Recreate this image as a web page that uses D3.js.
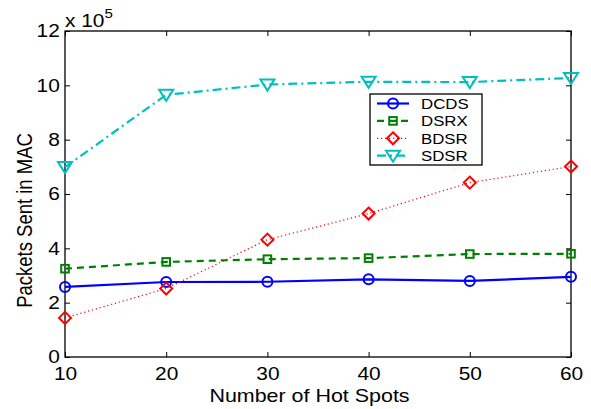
<!DOCTYPE html>
<html><head><meta charset="utf-8">
<script src="https://cdn.jsdelivr.net/npm/d3@7"></script>
<style>body{margin:0;background:#fff}svg{display:block}text{font-family:"Liberation Sans",Arial,sans-serif;fill:#000}</style>
</head><body><svg id="c" width="591" height="409"></svg>
<script>
const hotSpots = [10, 20, 30, 40, 50, 60];
const DCDS = [2.58, 2.76, 2.77, 2.86, 2.80, 2.95];
const DSRX = [3.25, 3.50, 3.60, 3.64, 3.79, 3.80];
const BDSR = [1.44, 2.52, 4.32, 5.28, 6.42, 7.01];
const SDSR = [6.99, 9.65, 10.03, 10.13, 10.12, 10.27];
const xTicks = [10, 20, 30, 40, 50, 60];
const yTicks = [0, 2, 4, 6, 8, 10, 12];

const series = [
  {name: "DCDS", values: DCDS, color: "#0000ff", dash: null, width: 2.2, marker: "circle"},
  {name: "DSRX", values: DSRX, color: "#008000", dash: "7,5", width: 2.2, marker: "square"},
  {name: "BDSR", values: BDSR, color: "#ff0000", dash: "1.2,2.8", width: 1.2, marker: "diamond"},
  {name: "SDSR", values: SDSR, color: "#00bfbf", dash: "9,4,2,4", width: 2.2, marker: "tri"}
];

const SX = 1.16; // horizontal stretch of glyphs in the reference
const svg = d3.select("#c");
const L = 65, R = 571, T = 31, B = 357;
const x = d3.scaleLinear().domain([10, 60]).range([L, R]);
const y = d3.scaleLinear().domain([0, 12]).range([B, T]);

function drawMarker(g, type, cx, cy, color) {
  let m;
  if (type === "circle") m = g.append("circle").attr("cx", cx).attr("cy", cy).attr("r", 5);
  else if (type === "square") m = g.append("rect").attr("x", cx - 3.8).attr("y", cy - 3.8).attr("width", 7.6).attr("height", 7.6);
  else if (type === "diamond") m = g.append("path").attr("d", `M${cx},${cy-6}L${cx+6},${cy}L${cx},${cy+6}L${cx-6},${cy}Z`);
  else m = g.append("path").attr("d", `M${cx-7},${cy-5}L${cx+7},${cy-5}L${cx},${cy+6}Z`);
  m.attr("fill", "none").attr("stroke", color).attr("stroke-width", 2);
}

// frame
svg.append("rect").attr("x", L).attr("y", T).attr("width", R - L).attr("height", B - T)
  .attr("fill", "none").attr("stroke", "#000").attr("stroke-width", 1.3);

// axes with inward ticks
const xAxis = svg.append("g").attr("transform", `translate(0,${B})`)
  .call(d3.axisBottom(x).tickValues(xTicks).tickSize(-5).tickPadding(10));
const xTop = svg.append("g").attr("transform", `translate(0,${T})`)
  .call(d3.axisTop(x).tickValues(xTicks).tickSize(-5).tickFormat(""));
const yAxis = svg.append("g").attr("transform", `translate(${L},0)`)
  .call(d3.axisLeft(y).tickValues(yTicks).tickSize(-5).tickPadding(4.5));
const yRight = svg.append("g").attr("transform", `translate(${R},0)`)
  .call(d3.axisRight(y).tickValues(yTicks).tickSize(-5).tickFormat(""));
[xAxis, xTop, yAxis, yRight].forEach(a => {
  a.select(".domain").remove();
  a.selectAll("line").attr("stroke", "#000").attr("stroke-width", 1);
  a.selectAll("text").style("font-size", "18px").style("font-family", '"Liberation Sans",Arial,sans-serif')
    .attr("transform", `scale(${SX},1)`);
});

// series
series.forEach(s => {
  const line = d3.line().x((d, i) => x(hotSpots[i])).y(d => y(d));
  svg.append("path").datum(s.values).attr("d", line).attr("fill", "none")
    .attr("stroke", s.color).attr("stroke-width", s.width)
    .attr("stroke-dasharray", s.dash);
  const g = svg.append("g");
  s.values.forEach((v, i) => drawMarker(g, s.marker, x(hotSpots[i]), y(v), s.color));
});

// legend
const lg = svg.append("g");
lg.append("rect").attr("x", 370).attr("y", 94).attr("width", 112).attr("height", 71)
  .attr("fill", "#fff").attr("stroke", "#000").attr("stroke-width", 1.3);
series.forEach((s, i) => {
  const cy = 103.5 + i * 17.4;
  lg.append("line").attr("x1", 377).attr("x2", 409).attr("y1", cy).attr("y2", cy)
    .attr("stroke", s.color).attr("stroke-width", s.width).attr("stroke-dasharray", s.dash);
  drawMarker(lg, s.marker, 393, cy, s.color);
  lg.append("text").attr("transform", `translate(421,${cy}) scale(${SX},1)`).attr("dy", "0.36em")
    .style("font-size", "14.5px").text(s.name);
});

// labels
svg.append("text").attr("transform", `translate(309.5,402) scale(${SX},1)`).attr("text-anchor", "middle")
  .style("font-size", "18.5px").text("Number of Hot Spots");
svg.append("text").attr("transform", `translate(32,220.5) scale(${SX},1) rotate(-90)`).attr("text-anchor", "middle")
  .style("font-size", "18.5px").text("Packets Sent in MAC");
const ex = svg.append("text").attr("transform", `translate(65,27) scale(${SX},1)`).style("font-size", "18px");
ex.append("tspan").text("x 10");
ex.append("tspan").attr("dy", -9).style("font-size", "13px").text("5");
</script></body></html>
